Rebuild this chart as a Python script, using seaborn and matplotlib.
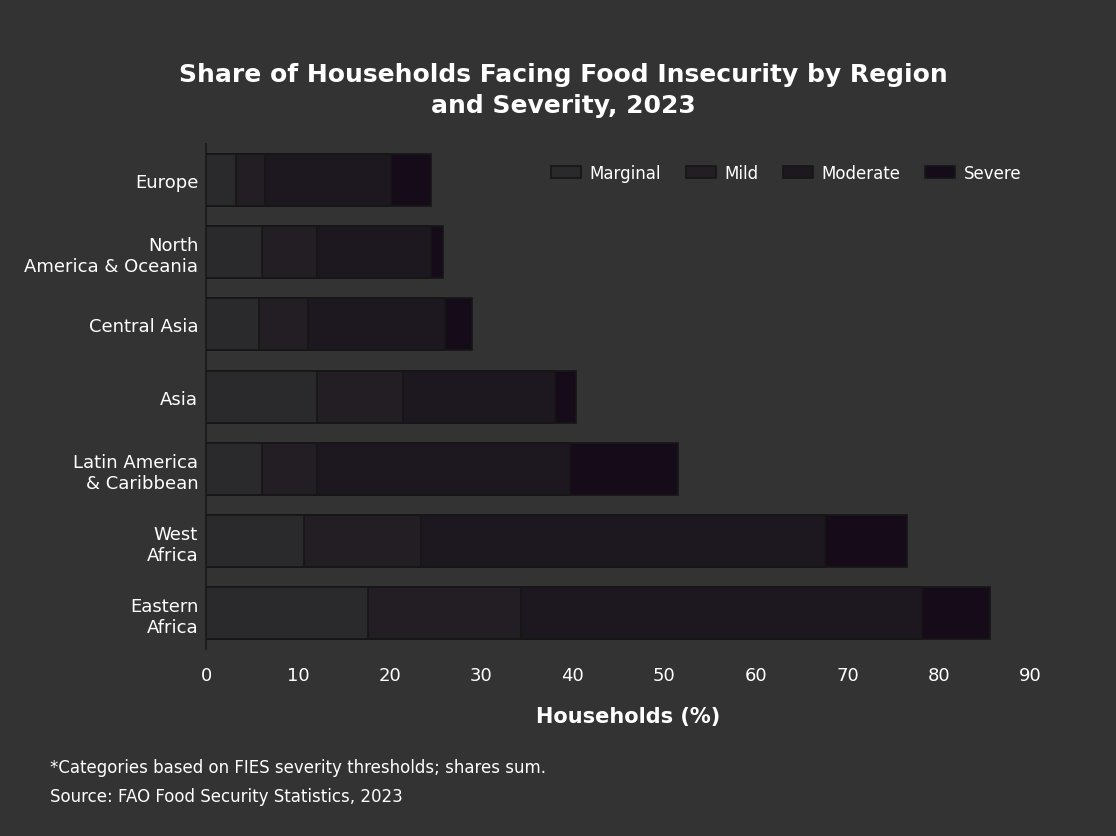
import numpy as np
import pandas as pd
import seaborn as sns
import matplotlib.pyplot as plt

regions = ["Europe", "North\nAmerica & Oceania", "Central Asia", "Asia",
           "Latin America\n& Caribbean", "West\nAfrica", "Eastern\nAfrica"]
levels = ["Marginal", "Mild", "Moderate", "Severe"]
marginal = [3.2, 6.1, 5.7, 12.1, 6.1, 10.7, 17.6]
mild = [3.2, 6.0, 5.4, 9.4, 6.0, 12.7, 16.7]
moderate = [13.7, 12.4, 15.0, 16.6, 27.6, 44.1, 43.8]
severe = [4.4, 1.3, 2.9, 2.2, 11.8, 9.0, 7.4]
x_ticks = [0, 10, 20, 30, 40, 50, 60, 70, 80, 90]

colors = ["#2a292c", "#221d25", "#1e1521", "#170a1b"]
bg = "#333333"

df = pd.DataFrame({"Region": regions, "Marginal": marginal, "Mild": mild,
                   "Moderate": moderate, "Severe": severe})

sns.set_theme(style="dark", rc={"axes.facecolor": bg, "figure.facecolor": bg})
plt.rcParams["font.family"] = ["DejaVu Sans"]

fig, ax = plt.subplots(figsize=(11.16, 8.37), dpi=100)
fig.subplots_adjust(left=0.185, right=0.94, top=0.827, bottom=0.223)

left = np.zeros(len(df))
for lvl, col in zip(levels, colors):
    sns.barplot(x=df[lvl] + left, y=df["Region"], color=col, orient="h",
                ax=ax, width=0.72, edgecolor="#161616", linewidth=1.2,
                label=lvl)
    left = left + df[lvl].values

# cumulative bars: shorter ones drawn on top
for i, cont in enumerate(ax.containers):
    for p in cont:
        p.set_zorder(10 - i)

ax.set_xlim(0, 92)
ax.set_ylim(6.5, -0.5)
ax.set_xticks(x_ticks)
ax.tick_params(axis="x", colors="white", labelsize=13, length=0, pad=12)
ax.tick_params(axis="y", colors="white", labelsize=13, length=0, pad=6)
for lab in ax.get_yticklabels():
    lab.set_multialignment("right")
ax.set_ylabel("")
ax.set_xlabel("Households (%)", color="white", fontsize=15,
              fontweight="bold", labelpad=16)

for s in ["top", "right", "bottom"]:
    ax.spines[s].set_visible(False)
ax.spines["left"].set_color("#1e1e1e")
ax.spines["left"].set_linewidth(1.5)
ax.grid(False)

handles, labels = ax.get_legend_handles_labels()
leg = ax.legend(handles, labels, ncol=4, loc="upper right",
                bbox_to_anchor=(0.985, 0.99), frameon=False, fontsize=12,
                handlelength=1.8, columnspacing=1.5, handletextpad=0.5)
for t in leg.get_texts():
    t.set_color("white")

fig.suptitle("Share of Households Facing Food Insecurity by Region\nand Severity, 2023",
             color="white", fontsize=18, fontweight="bold", y=0.925,
             x=0.505, linespacing=1.4)

fig.text(0.045, 0.037,
         "*Categories based on FIES severity thresholds; shares sum.\n"
         "Source: FAO Food Security Statistics, 2023",
         color="white", fontsize=12, ha="left", va="bottom", linespacing=1.8)

plt.savefig("out.png", dpi=100, facecolor=bg)
